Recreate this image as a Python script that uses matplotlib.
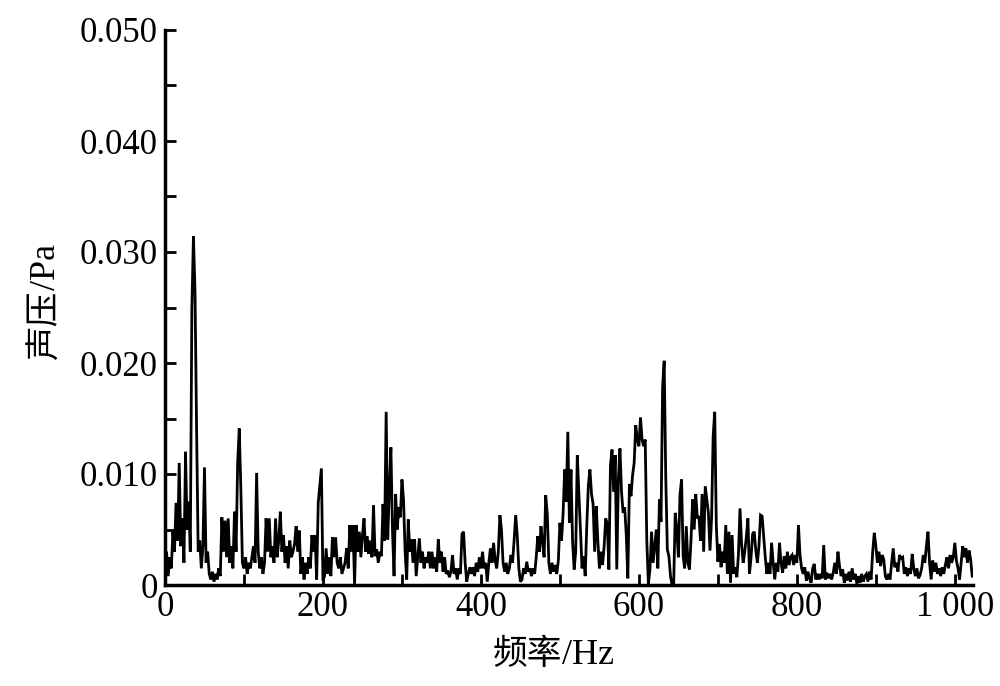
import numpy as np
import matplotlib
matplotlib.use("Agg")
import matplotlib.pyplot as plt
from matplotlib.ticker import MultipleLocator

# Sound pressure spectrum (values in mPa), sampled every 2 Hz starting at 0 Hz
amp_000 = [2.0, 3.0, 0.8, 2.5, 1.5, 4.8, 3.0, 7.4, 4.0, 11.0,
           3.5, 6.0, 2.0, 12.0, 5.0, 7.5, 3.0, 24.8, 31.4, 26.4,
           14.0, 3.0, 4.0, 1.5, 3.5, 10.6, 2.0, 3.0, 1.0, 0.5,
           1.2, 0.3, 1.0, 0.5, 1.5, 0.8, 6.1, 3.0, 5.8, 2.5,
           6.0, 2.0, 3.5, 1.5, 6.6, 3.0, 11.0, 14.1, 8.8, 2.0]
amp_100 = [1.5, 2.5, 1.0, 2.0, 1.5, 2.5, 3.5, 2.0, 10.1, 3.0,
           1.5, 2.5, 1.0, 2.0, 6.0, 3.0, 6.0, 2.5, 3.5, 2.0,
           6.0, 2.5, 4.0, 6.6, 3.0, 4.5, 2.0, 3.5, 1.5, 4.0,
           2.5, 3.0, 3.7, 5.3, 3.0, 4.9, 1.0, 2.5, 0.5, 2.0,
           1.0, 2.5, 1.5, 4.5, 3.0, 4.5, 0.5, 7.4, 9.0, 10.5]
amp_200 = [0.4, 0.8, 3.3, 1.0, 2.5, 0.8, 4.3, 2.5, 4.3, 2.0,
           1.5, 2.5, 1.0, 1.5, 2.0, 3.3, 1.5, 5.4, 3.0, 5.4,
           0.1, 5.4, 3.0, 4.8, 2.5, 4.5, 6.0, 3.0, 4.4, 2.8,
           4.0, 2.5, 7.2, 2.6, 3.2, 2.0, 3.0, 2.6, 7.3, 4.0,
           15.6, 4.1, 8.7, 12.4, 5.0, 0.8, 8.2, 5.0, 7.0, 6.1]
amp_300 = [9.5, 7.7, 3.0, 0.5, 5.9, 3.0, 4.1, 2.0, 4.1, 0.8,
           2.5, 4.2, 2.0, 3.0, 1.5, 2.5, 2.0, 3.0, 1.5, 3.0,
           1.5, 2.5, 1.2, 4.1, 2.0, 3.0, 1.2, 2.5, 1.0, 1.3,
           0.7, 1.2, 2.7, 1.0, 1.5, 0.5, 1.5, 1.0, 4.6, 4.8,
           2.0, 0.3, 1.0, 1.6, 1.0, 1.6, 0.8, 2.0, 1.2, 2.5]
amp_400 = [1.5, 3.0, 1.5, 2.0, 0.3, 2.0, 3.3, 2.0, 3.8, 2.2,
           1.5, 3.0, 6.3, 5.0, 2.0, 1.2, 2.0, 1.0, 1.5, 2.7,
           2.0, 4.0, 6.3, 4.4, 1.5, 0.3, 0.5, 1.5, 1.0, 2.1,
           1.2, 1.5, 0.8, 1.5, 1.0, 2.5, 4.4, 3.0, 5.3, 3.8,
           2.5, 8.1, 6.4, 2.0, 1.0, 2.0, 1.2, 1.8, 1.0, 2.2]
amp_500 = [5.6, 4.0, 6.4, 10.4, 7.5, 13.8, 5.6, 10.4, 4.0, 1.4,
           3.0, 11.7, 8.2, 5.0, 1.5, 2.6, 0.8, 5.3, 9.0, 10.4,
           8.2, 7.3, 3.0, 7.1, 4.0, 1.5, 3.0, 1.8, 3.5, 6.0,
           5.5, 1.4, 10.8, 12.2, 8.4, 11.7, 1.4, 9.5, 12.3, 8.4,
           6.5, 7.0, 4.5, 0.6, 9.1, 8.0, 9.9, 11.0, 14.4, 13.1]
amp_600 = [12.5, 15.1, 13.1, 12.5, 13.1, 4.0, 0.1, 1.4, 4.8, 2.0,
           3.5, 5.0, 1.5, 7.7, 5.7, 17.8, 20.2, 9.7, 3.2, 2.6,
           0.8, 0.0, 0.0, 6.5, 5.0, 2.5, 8.1, 9.5, 2.6, 1.5,
           5.3, 2.0, 1.4, 4.1, 7.7, 5.0, 8.2, 6.0, 6.2, 4.0,
           8.2, 3.0, 8.9, 7.7, 6.5, 3.1, 6.0, 13.4, 15.6, 5.4]
amp_700 = [2.1, 3.7, 1.6, 3.0, 2.0, 5.4, 1.0, 4.8, 0.2, 4.5,
           1.0, 1.6, 0.7, 2.7, 6.9, 3.7, 2.0, 3.0, 4.3, 6.0,
           1.0, 2.5, 4.6, 4.8, 3.1, 2.0, 3.5, 6.3, 6.2, 4.3,
           2.5, 1.0, 2.0, 1.0, 3.8, 2.0, 0.5, 2.0, 1.2, 3.8,
           2.0, 1.1, 2.6, 1.5, 3.0, 1.8, 2.5, 2.7, 1.8, 2.7]
amp_800 = [2.0, 5.4, 2.7, 1.5, 1.0, 1.6, 0.4, 1.2, 0.6, 0.2,
           1.5, 1.9, 0.5, 1.0, 0.5, 1.0, 0.6, 3.6, 0.5, 1.1,
           0.6, 1.0, 0.5, 1.1, 2.0, 1.0, 3.0, 1.7, 0.8, 1.4,
           0.2, 1.0, 0.4, 1.2, 0.3, 1.5, 0.5, 1.0, 0.1, 0.8,
           0.2, 1.0, 0.3, 0.8, 1.0, 0.3, 1.2, 0.5, 3.0, 4.7]
amp_900 = [3.5, 2.0, 3.0, 1.7, 2.7, 2.3, 0.8, 0.5, 1.0, 0.5,
           2.0, 3.3, 1.6, 2.0, 1.2, 2.7, 2.4, 2.5, 1.0, 1.6,
           0.8, 1.5, 1.0, 2.8, 1.5, 0.8, 1.5, 0.6, 0.9, 1.5,
           2.7, 2.0, 3.5, 4.8, 2.0, 0.5, 2.2, 1.2, 2.0, 1.0,
           1.5, 0.8, 1.6, 1.0, 1.8, 2.5, 1.5, 2.7, 2.0, 2.5,
           3.8, 2.2, 1.5, 0.5, 2.0, 3.5, 2.5, 3.3, 2.0, 3.1,
           2.3, 0.8]

x_ticks = [0, 200, 400, 600, 800, 1000]
x_tick_labels = ["0", "200", "400", "600", "800", "1 000"]
y_ticks = [0, 0.010, 0.020, 0.030, 0.040, 0.050]
y_tick_labels = ["0", "0.010", "0.020", "0.030", "0.040", "0.050"]

amp_mpa = np.array(amp_000 + amp_100 + amp_200 + amp_300 + amp_400 +
                   amp_500 + amp_600 + amp_700 + amp_800 + amp_900)
pressure = amp_mpa * 1e-3              # Pa
freq = np.arange(len(pressure)) * 2.0  # Hz

plt.rcParams['font.family'] = ['Liberation Serif', 'DejaVu Serif']

fig = plt.figure(figsize=(10, 6.86), dpi=100)
ax = fig.add_axes([0.165, 1 - 585 / 686, 0.808, (585 - 30) / 686])

ax.plot(freq, pressure, color='black', lw=2.0, solid_joinstyle='miter')

ax.set_xlim(0, 1023)
ax.set_ylim(0, 0.050)
ax.set_xticks(x_ticks)
ax.set_xticklabels(x_tick_labels)
ax.set_yticks(y_ticks)
ax.set_yticklabels(y_tick_labels)
ax.xaxis.set_minor_locator(MultipleLocator(100))
ax.yaxis.set_minor_locator(MultipleLocator(0.005))

for s in ['top', 'right']:
    ax.spines[s].set_visible(False)
for s in ['left', 'bottom']:
    ax.spines[s].set_linewidth(2.5)

ax.tick_params(which='both', direction='in', width=2, length=8, labelsize=25,
               colors='black')
ax.tick_params(axis='y', which='both', pad=5)
ax.tick_params(axis='x', which='both', pad=4)

cjk = dict(family=['Noto Sans CJK SC'], weight='normal', fontsize=25)
ser = dict(family=['Liberation Serif'], fontsize=26)

# x label: 频率/Hz
fig.text(562 / 1000, 1 - 664 / 686, "频率", ha='right', va='baseline', **cjk)
fig.text(562 / 1000, 1 - 664 / 686, "/Hz", ha='left', va='baseline', **ser)

# y label: 声压/Pa (rotated)
fig.text(55 / 1000, 1 - 290 / 686, "声压", ha='right', va='baseline',
         rotation=90, rotation_mode='anchor', **cjk)
fig.text(55 / 1000, 1 - 290 / 686, "/Pa", ha='left', va='baseline',
         rotation=90, rotation_mode='anchor', **ser)

fig.savefig("out.png", dpi=100)
